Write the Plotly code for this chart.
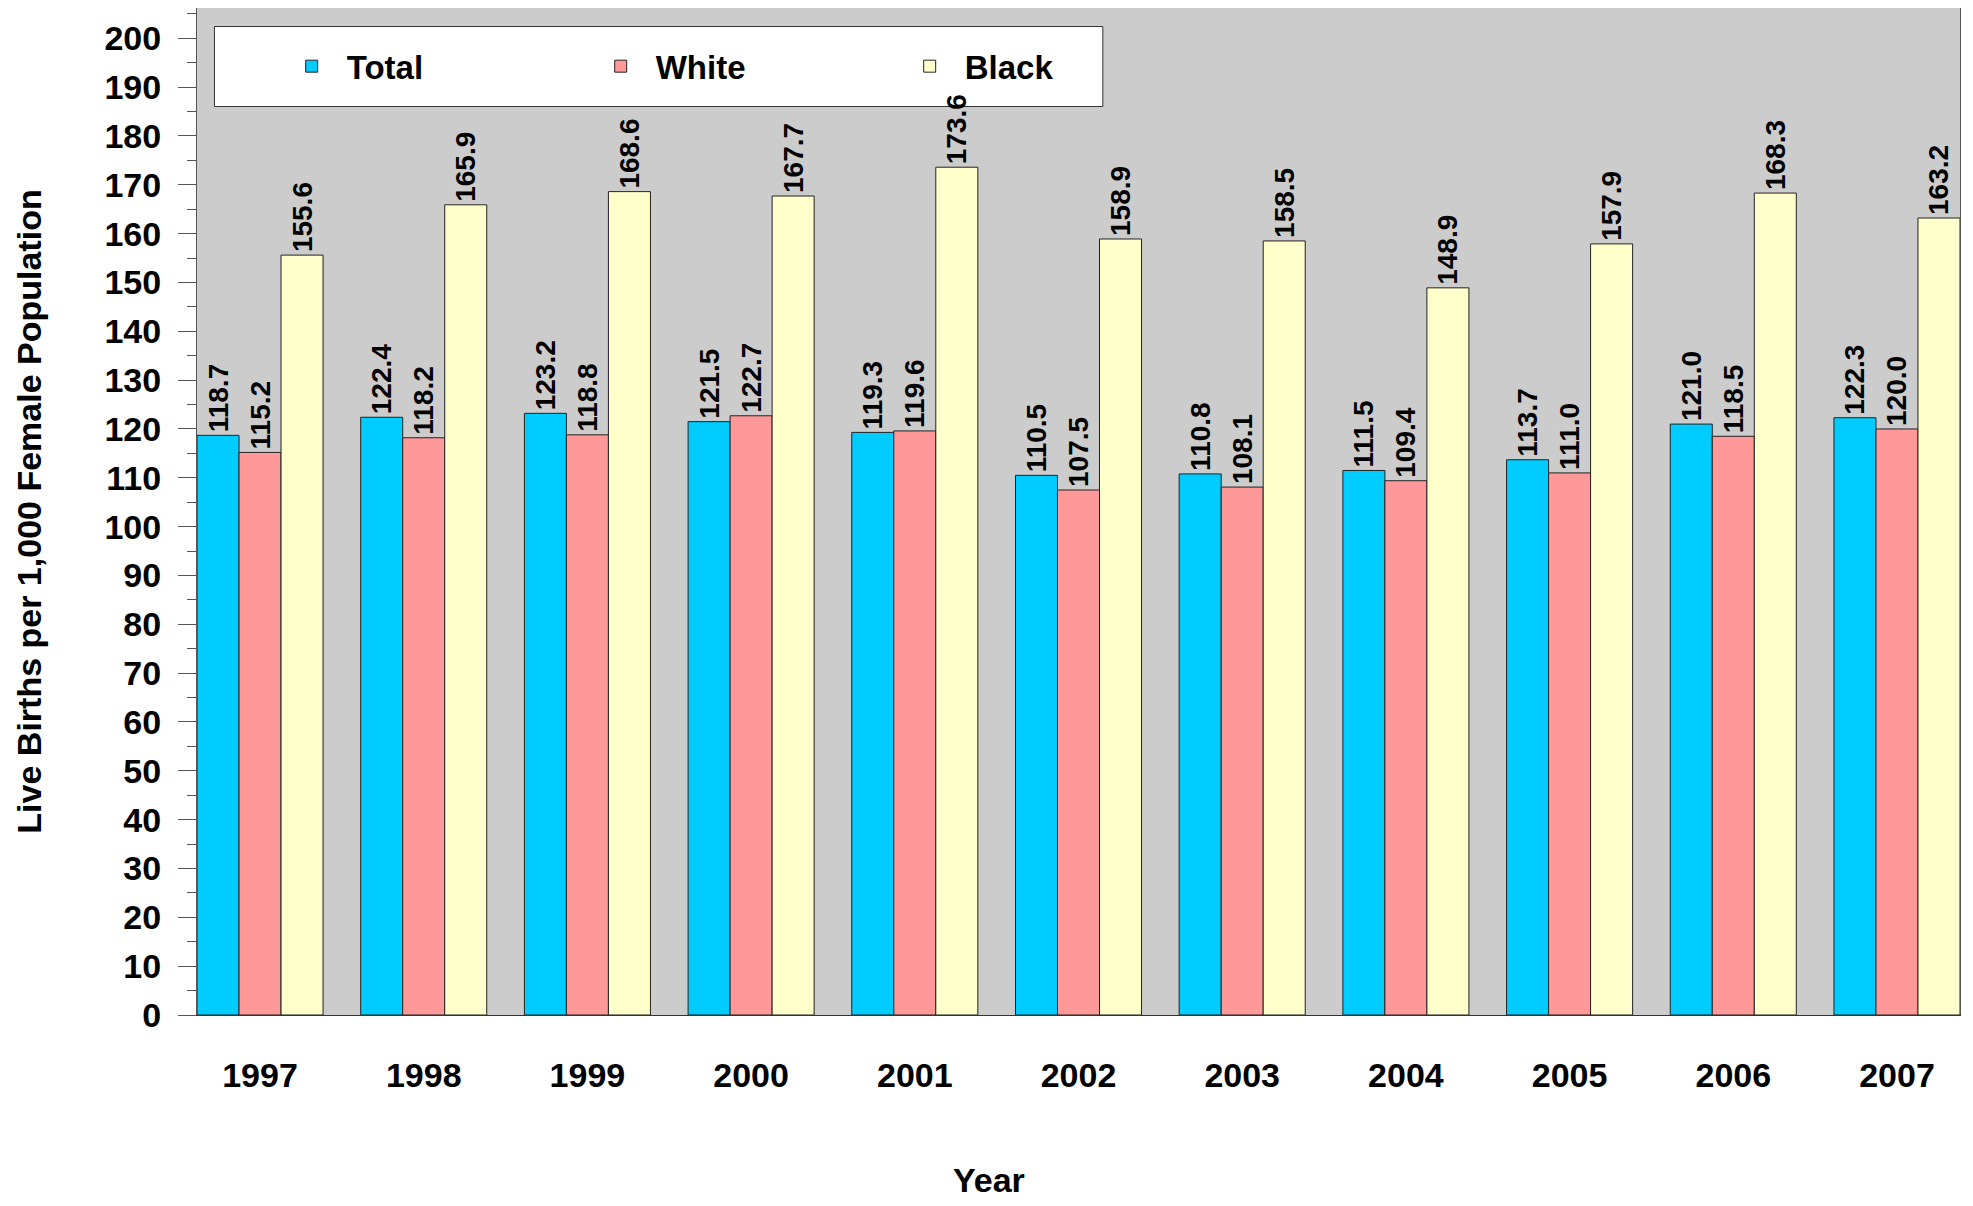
import plotly.graph_objects as go

years = ["1997", "1998", "1999", "2000", "2001", "2002", "2003", "2004", "2005", "2006", "2007"]
total = [118.7, 122.4, 123.2, 121.5, 119.3, 110.5, 110.8, 111.5, 113.7, 121.0, 122.3]
white = [115.2, 118.2, 118.8, 122.7, 119.6, 107.5, 108.1, 109.4, 111.0, 118.5, 120.0]
black = [155.6, 165.9, 168.6, 167.7, 173.6, 158.9, 158.5, 148.9, 157.9, 168.3, 163.2]

series_names = ["Total", "White", "Black"]
series_colors = ["#00CCFF", "#FF9999", "#FFFFCC"]
series_values = [total, white, black]

FONT = "Arial, 'Liberation Sans', sans-serif"

fig = go.Figure()
for name, color, vals in zip(series_names, series_colors, series_values):
    fig.add_trace(go.Bar(
        name=name,
        x=years,
        y=vals,
        marker=dict(color=color, line=dict(color="#222222", width=1)),
        text=[f"{v:.1f}" for v in vals],
        textposition="outside",
        textangle=-90,
        constraintext="none",
        cliponaxis=False,
        textfont=dict(family=FONT, size=28, color="black", weight="bold"),
    ))

# white legend box drawn beneath the bars (data labels overlap it as in the original)
fig.add_shape(type="rect", xref="x domain", yref="y domain",
              x0=0.0099, x1=0.5138, y0=0.9022, y1=0.9816,
              fillcolor="white", line=dict(color="#333333", width=1), layer="below")

# x-axis title (placed left of centre, as in the original)
fig.add_annotation(text="Year", xref="paper", yref="paper", x=0.449, y=-0.164,
                   xanchor="center", yanchor="middle", showarrow=False,
                   font=dict(family=FONT, size=34, color="black", weight="bold"))

fig.update_layout(
    width=1965, height=1198,
    margin=dict(l=189, r=13, t=0, b=191),
    paper_bgcolor="white",
    plot_bgcolor="#CCCCCC",
    barmode="group",
    bargap=0.23,
    bargroupgap=0,
    font=dict(family=FONT, size=34, color="black", weight="bold"),
    showlegend=True,
    legend=dict(
        orientation="h",
        x=0.0452, y=0.970, xanchor="left", yanchor="top",
        bgcolor="rgba(0,0,0,0)", borderwidth=0,
        font=dict(family=FONT, size=33, color="black", weight="bold"),
        entrywidth=234, entrywidthmode="pixels",
        itemwidth=60,
    ),
    xaxis=dict(
        showgrid=False, zeroline=False,
        showline=True, linecolor="#333333", linewidth=1, mirror=True,
        ticks="", ticklabelstandoff=30,
        tickfont=dict(family=FONT, size=34, weight="bold"),
        range=[-0.385, 10.385],
        automargin=False,
    ),
    yaxis=dict(
        title=dict(text="Live Births per 1,000 Female Population",
                   font=dict(family=FONT, size=34, weight="bold"), standoff=52),
        range=[0, 206.2],
        dtick=10, tick0=0,
        showgrid=False, zeroline=False,
        showline=True, linecolor="#555555", linewidth=1, mirror=True,
        ticks="outside", ticklen=18, tickcolor="#555555", tickwidth=1,
        ticklabelstandoff=10,
        minor=dict(ticks="outside", ticklen=9, dtick=5, tickcolor="#555555", tickwidth=1),
        tickfont=dict(family=FONT, size=34, weight="bold"),
        automargin=False,
    ),
)

fig.write_html("out.html")
